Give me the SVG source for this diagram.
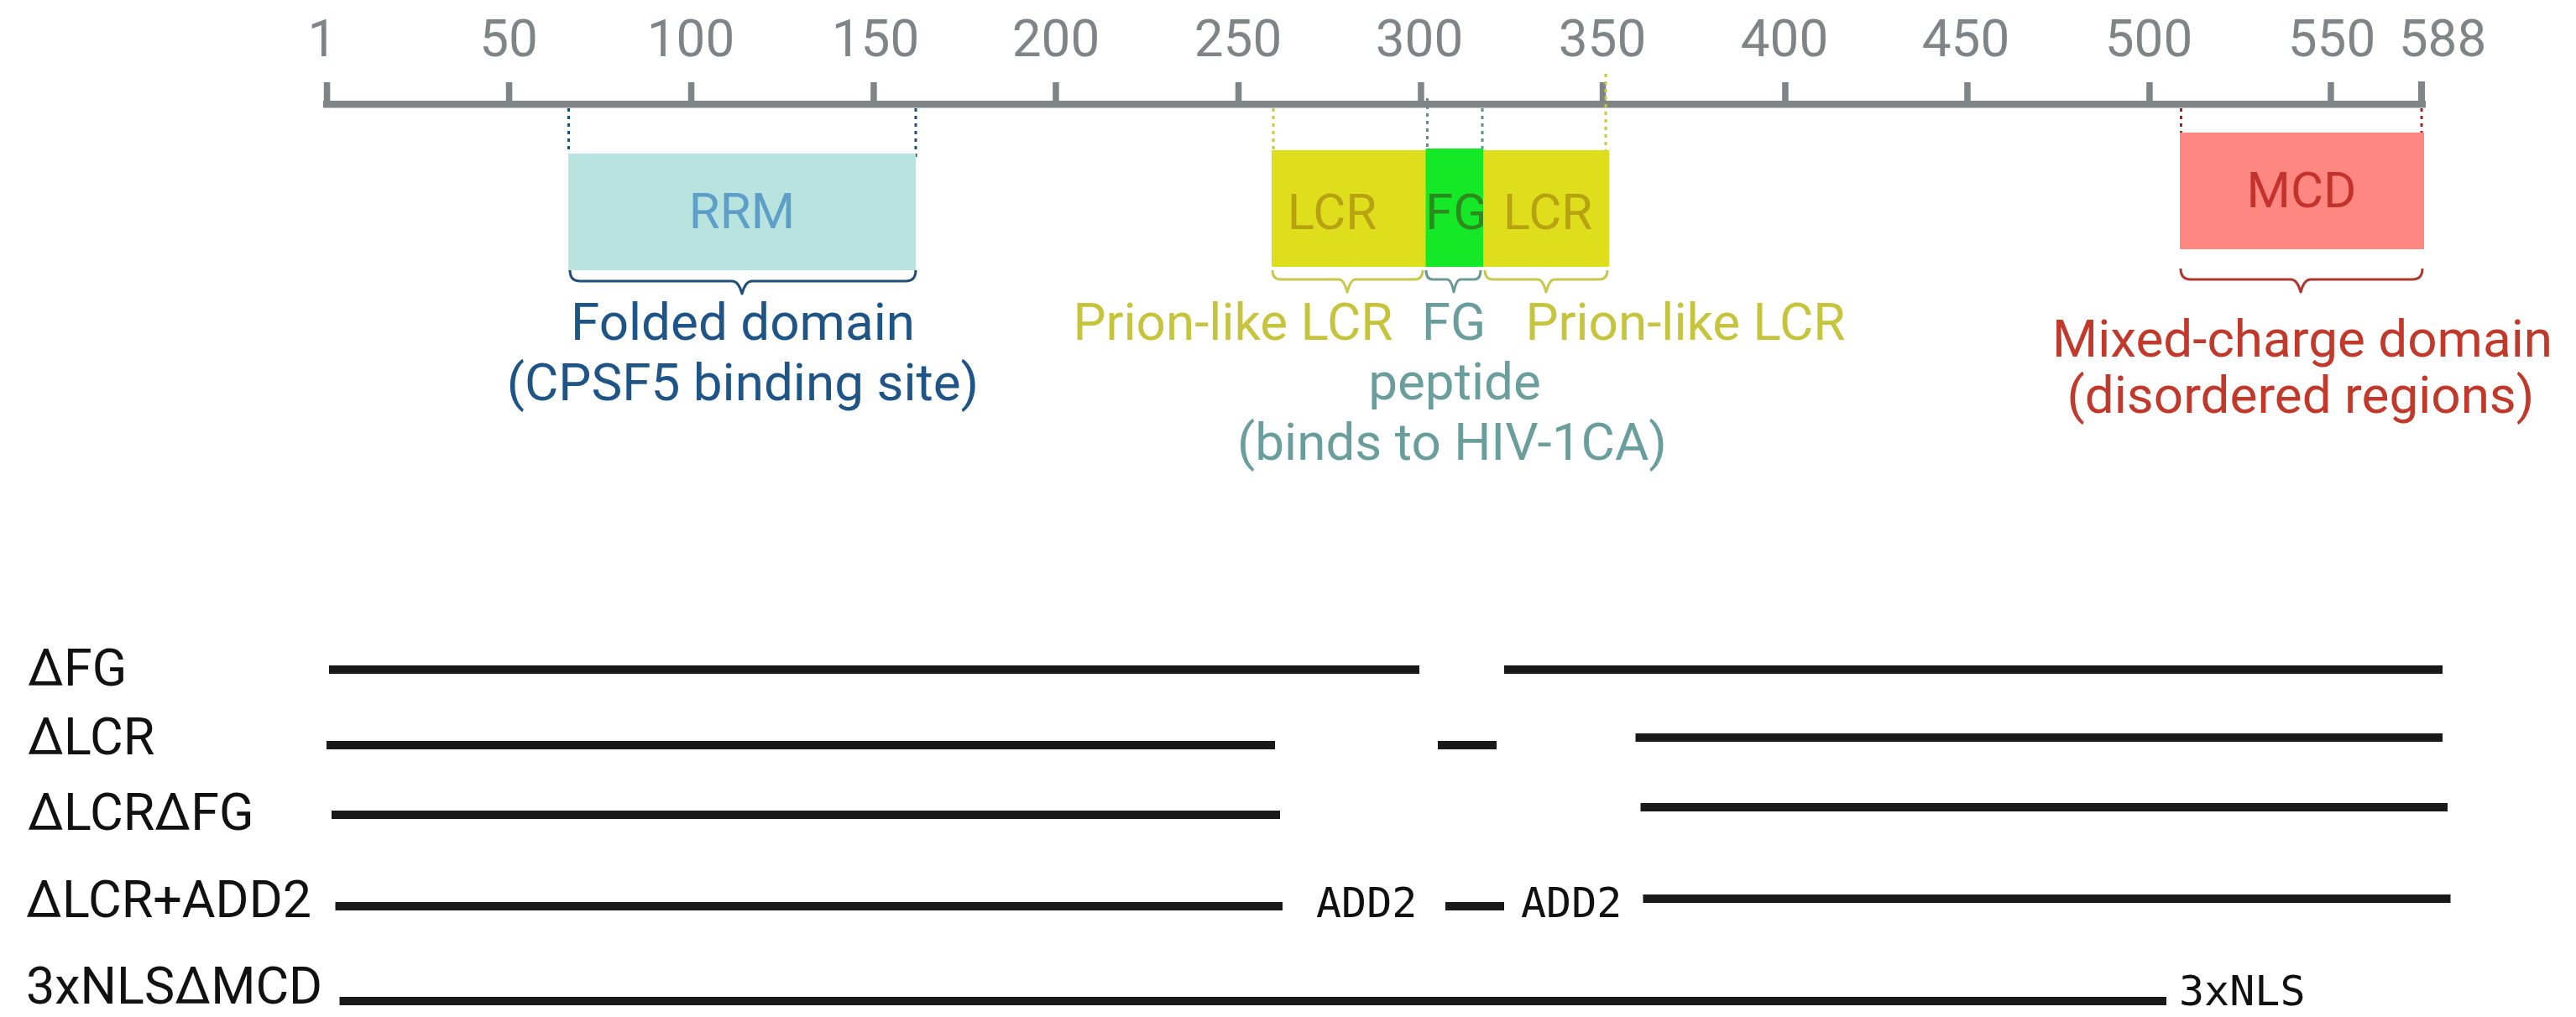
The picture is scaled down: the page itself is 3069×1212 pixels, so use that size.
<svg xmlns="http://www.w3.org/2000/svg" width="3069" height="1212" viewBox="0 0 3069 1212">
<style>
.lbl{font-family:Roboto,"Liberation Sans",sans-serif;font-size:62px}
.tick{font-family:Roboto,"Liberation Sans",sans-serif;font-size:62px;fill:#7f8487;text-anchor:middle}
.axis{fill:#7f8487}
.box{font-family:Roboto,"Liberation Sans",sans-serif;font-size:60px;text-anchor:middle}
.mid{text-anchor:middle}
.dot{stroke-width:3;stroke-dasharray:4 5;fill:none}
.brace{stroke-width:3;fill:none;stroke-linejoin:round}
.bar{stroke:#191919;stroke-width:10}
.mono{font-family:"DejaVu Sans Mono","Liberation Mono",monospace;font-size:50px;fill:#111}
.row{font-family:Roboto,"Liberation Sans",sans-serif;font-size:61px;fill:#111}
</style>
<rect width="3069" height="1212" fill="#ffffff"/>
<g id="ruler">
<rect class="axis" x="385" y="120" width="2505" height="8.5"/>
<rect class="axis" x="385.8" y="98" width="7.5" height="24"/>
<rect class="axis" x="602.8" y="98" width="7.5" height="24"/>
<rect class="axis" x="819.8" y="98" width="7.5" height="24"/>
<rect class="axis" x="1037.2" y="98" width="7.5" height="24"/>
<rect class="axis" x="1254.2" y="98" width="7.5" height="24"/>
<rect class="axis" x="1471.8" y="98" width="7.5" height="24"/>
<rect class="axis" x="1689.2" y="98" width="7.5" height="24"/>
<rect class="axis" x="1905.8" y="98" width="7.5" height="24"/>
<rect class="axis" x="2123.2" y="98" width="7.5" height="24"/>
<rect class="axis" x="2340.2" y="98" width="7.5" height="24"/>
<rect class="axis" x="2557.2" y="98" width="7.5" height="24"/>
<rect class="axis" x="2773.2" y="98" width="7.5" height="24"/>
<rect class="axis" x="2881" y="97" width="8" height="25"/>
<text class="tick" x="384" y="67">1</text>
<text class="tick" x="606" y="67">50</text>
<text class="tick" x="823" y="67">100</text>
<text class="tick" x="1043" y="67">150</text>
<text class="tick" x="1258" y="67">200</text>
<text class="tick" x="1475" y="67">250</text>
<text class="tick" x="1691" y="67">300</text>
<text class="tick" x="1909" y="67">350</text>
<text class="tick" x="2126" y="67">400</text>
<text class="tick" x="2342" y="67">450</text>
<text class="tick" x="2560" y="67">500</text>
<text class="tick" x="2778" y="67">550</text>
<text class="tick" x="2910" y="67">588</text>
</g>
<g id="connectors">
<line class="dot" stroke="#1f4e79" x1="677.5" y1="129" x2="677.5" y2="183"/>
<line class="dot" stroke="#1f4e79" x1="1091" y1="129" x2="1091" y2="190"/>
<line class="dot" stroke="#c9c83a" x1="1517" y1="129" x2="1517" y2="179"/>
<line class="dot" stroke="#5f8f8a" x1="1700.5" y1="117" x2="1700.5" y2="177"/>
<line class="dot" stroke="#5f8f8a" x1="1766" y1="129" x2="1766" y2="177"/>
<line class="dot" stroke="#c9c83a" x1="1913" y1="88" x2="1913" y2="179"/>
<line class="dot" stroke="#a02424" x1="2598.5" y1="129" x2="2598.5" y2="172"/>
<line class="dot" stroke="#a02424" x1="2885" y1="129" x2="2885" y2="162"/>
<path class="brace" stroke="#1f4e79" d="M679 322 Q679 335 691 335 L872 335 Q880 335 884 350 Q888 335 896 335 L1079 335 Q1091 335 1091 322"/>
<path class="brace" stroke="#c9c84c" d="M1516 322 Q1516 333 1526 333 L1595 333 Q1601 333 1605 348 Q1609 333 1615 333 L1685 333 Q1695 333 1695 322"/>
<path class="brace" stroke="#6a9a98" d="M1699 322 Q1699 333 1707 333 L1724 333 Q1729 333 1732 348 Q1735 333 1740 333 L1756 333 Q1764 333 1764 322"/>
<path class="brace" stroke="#c9c84c" d="M1769 322 Q1769 333 1779 333 L1832 333 Q1838 333 1842 348 Q1846 333 1852 333 L1905 333 Q1915 333 1915 322"/>
<path class="brace" stroke="#b03530" d="M2598 320 Q2598 333 2610 333 L2729 333 Q2737 333 2741 348 Q2745 333 2753 333 L2874 333 Q2886 333 2886 320"/>
</g>
<g id="rrm">
<rect x="677" y="183" width="414" height="139" fill="#b8e3de"/>
<text class="box" x="884" y="272" fill="#5d9fc9">RRM</text>
<text class="lbl mid" x="885" y="405" fill="#1f5487">Folded domain</text>
<text class="lbl mid" x="885" y="477" fill="#1f5487">(CPSF5 binding site)</text>
</g>
<g id="lcr1">
<rect x="1515" y="179" width="184" height="139" fill="#dede1c"/>
<text class="box" x="1587" y="273" fill="#b8a212">LCR</text>
<text class="lbl mid" x="1469" y="405" fill="#c6c43c">Prion-like LCR</text>
</g>
<g id="fg">
<rect x="1698.5" y="177" width="68.5" height="141" fill="#15e826"/>
<text class="box" x="1735" y="273" fill="#2d8a1f">FG</text>
<text class="lbl mid" x="1732" y="405" fill="#6a9e9c">FG</text>
<text class="lbl mid" x="1733" y="476" fill="#6a9e9c">peptide</text>
<text class="lbl mid" x="1730" y="548" fill="#6a9e9c">(binds to HIV-1CA)</text>
</g>
<g id="lcr2">
<rect x="1767" y="179" width="150" height="139" fill="#dede1c"/>
<text class="box" x="1844" y="273" fill="#b8a212">LCR</text>
<text class="lbl mid" x="2008" y="405" fill="#c6c43c">Prion-like LCR</text>
</g>
<g id="mcd">
<rect x="2597" y="158" width="291" height="139" fill="#ff8781"/>
<text class="box" x="2742" y="247" fill="#c3322c">MCD</text>
<text class="lbl mid" x="2743" y="425" fill="#c0392b">Mixed-charge domain</text>
<text class="lbl mid" x="2741" y="492" fill="#c0392b">(disordered regions)</text>
</g>
<g id="dFG">
<text class="row" x="33" y="817">ΔFG</text>
<line class="bar" x1="392" y1="798" x2="1691" y2="798"/>
<line class="bar" x1="1792" y1="798" x2="2910" y2="798"/>
</g>
<g id="dLCR">
<text class="row" x="33" y="899">ΔLCR</text>
<line class="bar" x1="389" y1="888" x2="1519" y2="888"/>
<line class="bar" x1="1713" y1="888" x2="1783" y2="888"/>
<line class="bar" x1="1948.5" y1="879" x2="2910" y2="879"/>
</g>
<g id="dLCRdFG">
<text class="row" x="33" y="989">ΔLCRΔFG</text>
<line class="bar" x1="395" y1="971" x2="1525" y2="971"/>
<line class="bar" x1="1954.5" y1="962" x2="2916" y2="962"/>
</g>
<g id="dLCRADD2">
<text class="row" x="31" y="1093">ΔLCR+ADD2</text>
<line class="bar" x1="399.5" y1="1080" x2="1528" y2="1080"/>
<text class="mono" x="1568" y="1093">ADD2</text>
<line class="bar" x1="1722" y1="1080" x2="1792" y2="1080"/>
<text class="mono" x="1812" y="1093">ADD2</text>
<line class="bar" x1="1957.5" y1="1071" x2="2919.5" y2="1071"/>
</g>
<g id="nlsdMCD">
<text class="row" x="31" y="1196">3xNLSΔMCD</text>
<line class="bar" x1="404.5" y1="1193" x2="2581" y2="1193"/>
<text class="mono" x="2596" y="1198">3xNLS</text>
</g>
</svg>
